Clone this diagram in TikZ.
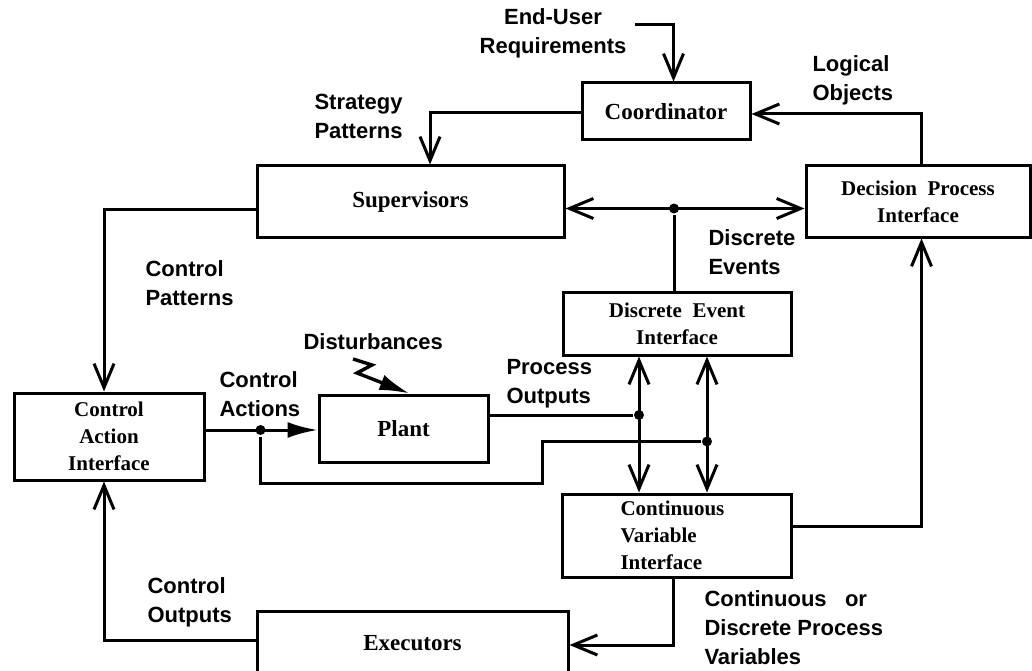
\documentclass[tikz,border=0pt]{standalone}
\usepackage{fontspec}
\setmainfont{Liberation Serif}
\setsansfont{Liberation Sans}
\usepackage{tikz}
\usetikzlibrary{positioning,calc,arrows.meta}

\begin{document}
\begin{tikzpicture}[
    x=1pt, y=-1pt,
    line width=3pt,
    block/.style={rectangle, draw, line width=3pt, font=\fontsize{23}{27}\selectfont\bfseries},
    iface/.style={block, font=\fontsize{21}{27}\selectfont\bfseries, align=center},
    lbl/.style={font=\fontsize{22}{29}\selectfont\sffamily\bfseries, align=left, anchor=west, inner sep=0pt},
    dot/.style={circle, fill, minimum size=10pt, inner sep=0pt},
    arrow/.style={-{Straight Barb[length=24pt,width=20pt]}},
    darrow/.style={{Straight Barb[length=24pt,width=20pt]}-{Straight Barb[length=24pt,width=20pt]}},
    farrow/.style={-{Latex[length=30pt,width=16pt]}}
]
    \useasboundingbox (0,0) rectangle (1032,671);

    % boxes
    \node[block, minimum width=168pt, minimum height=57pt] (coord) at (666,111.5) {Coordinator};
    \node[block, minimum width=307pt, minimum height=71pt] (sup) at (410.5,201.5) {Supervisors};
    \node[iface, minimum width=224pt, minimum height=71pt] (dpi) at (918,201.5) {Decision\ \ Process\\Interface};
    \node[iface, minimum width=228pt, minimum height=63pt] (dei) at (677,323.5) {Discrete\ \ Event\\Interface};
    \node[iface, minimum width=229pt, minimum height=83pt] (cvi) at (676.5,535.5) {};
    \node[font=\fontsize{21}{27}\selectfont\bfseries, align=left, anchor=west, inner sep=0pt] (cvitext) at (619,535) {Continuous\\Variable\\Interface};
    \node[iface, minimum width=190pt, minimum height=87pt] (cai) at (109,436.5) {Control\\Action\\Interface};
    \node[block, minimum width=169pt, minimum height=67pt] (plant) at (403.5,428.5) {Plant};
    \node[block, minimum width=311pt, minimum height=65pt] (exec) at (412.5,643.5) {Executors};

    % junctions
    \node[dot] (j1) at (674,208.5) {};
    \node[dot] (po) at (639,415) {};
    \node[dot] (fb) at (707,441.5) {};
    \node[dot] (ca) at (260.5,430) {};
    \coordinate (eu) at (635,25);
    \coordinate (fbturn) at (542,441.5);
    \coordinate (fbbot) at (542,483);
    \coordinate (dist) at (353,359);

    % connectors
    \draw[arrow] (eu) -| ([xshift=7.5pt]coord.north);
    \draw[arrow] ([yshift=-1.5pt]coord.west) -| ([xshift=19.5pt]sup.north);
    \draw[arrow] ([xshift=3.5pt]dpi.north) |- ([yshift=-2.5pt]coord.east);
    \draw[darrow] ([yshift=-7pt]sup.east) -- ([yshift=-7pt]dpi.west);
    \draw (j1) -- (j1 |- dei.north);
    \draw[darrow] ([xshift=-38pt]dei.south) -- ([xshift=-38pt]dei.south |- cvi.north);
    \draw[darrow] ([xshift=30pt]dei.south) -- ([xshift=30pt]dei.south |- cvi.north);
    \draw (po -| plant.east) -- (po);
    \draw (fb) -- (fbturn) -- (fbbot) -| (ca);
    \draw[farrow] (ca -| cai.east) -- (ca -| plant.west);
    \draw[farrow, line width=3.4pt] (dist) -- (372,365) -- (357,373) -- ([xshift=6pt]plant.north);
    \draw[arrow] ([yshift=-8pt]sup.west) -| ([xshift=-5pt]cai.north);
    \draw[arrow] ([yshift=3.5pt]exec.west) -| ([xshift=-5pt]cai.south);
    \draw[arrow] ([xshift=-3.5pt]cvi.south) |- ([yshift=-1.5pt]exec.east);
    \draw[arrow] ([yshift=9pt]cvi.east) -| ([xshift=3.5pt]dpi.south);

    % labels
    \node[lbl, anchor=center, align=center] (eulbl) at (553,33) {End-User\\Requirements};
    \node[lbl] (splbl) at (313,116.5) {Strategy\\Patterns};
    \node[lbl] (lolbl) at (811,80) {Logical\\Objects};
    \node[lbl] (cplbl) at (144,283) {Control\\Patterns};
    \node[lbl] (delbl) at (707,252.5) {Discrete\\Events};
    \node[lbl] (dslbl) at (302,342) {Disturbances};
    \node[lbl] (calbl) at (218,394) {Control\\Actions};
    \node[lbl] (polbl) at (505,384) {Process\\Outputs};
    \node[lbl] (colbl) at (146,602.5) {Control\\Outputs};
    \node[lbl] (pvlbl) at (703,628) {Continuous\ \ \ or\\Discrete Process\\Variables};
\end{tikzpicture}
\end{document}
